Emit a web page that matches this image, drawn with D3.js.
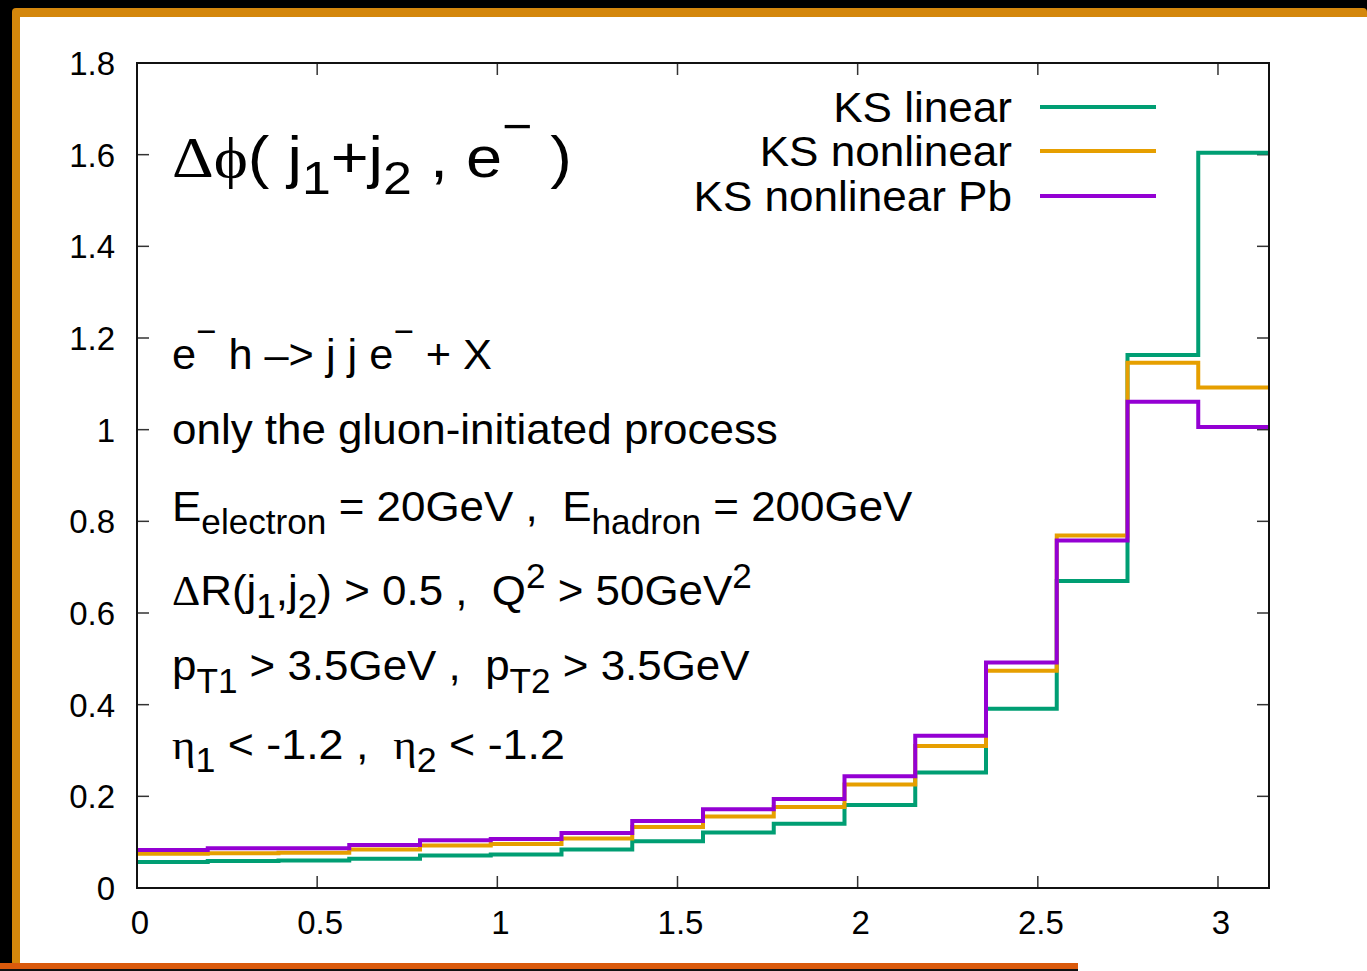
<!DOCTYPE html>
<html>
<head>
<meta charset="utf-8">
<script src="https://cdn.jsdelivr.net/npm/d3@7"></script>
<style>
  html, body { margin: 0; padding: 0; background: #000; }
  svg { display: block; }
  text { font-family: "Liberation Sans", Arial, Helvetica, sans-serif; fill: #000; white-space: pre; }
</style>
</head>
<body>
<svg id="chart" width="1367" height="971"></svg>
<script>
// Bin edges in delta-phi (16 bins over [0, pi])
const binEdges = [0, 0.19635, 0.39270, 0.58905, 0.78540, 0.98175, 1.17810, 1.37445,
                  1.57080, 1.76715, 1.96350, 2.15984, 2.35619, 2.55254, 2.74889, 2.94524, 3.14159];

// Histogram contents per bin
const ksLinear      = [0.057, 0.059, 0.060, 0.064, 0.071, 0.073, 0.084, 0.102,
                       0.121, 0.140, 0.181, 0.252, 0.391, 0.670, 1.163, 1.604];
const ksNonlinear   = [0.075, 0.076, 0.077, 0.084, 0.093, 0.096, 0.108, 0.133,
                       0.156, 0.177, 0.226, 0.310, 0.474, 0.769, 1.146, 1.092];
const ksNonlinearPb = [0.083, 0.087, 0.087, 0.094, 0.104, 0.107, 0.120, 0.146,
                       0.172, 0.194, 0.244, 0.332, 0.492, 0.758, 1.061, 1.006];

const seriesNames  = ["KS linear", "KS nonlinear", "KS nonlinear Pb"];
const seriesColors = ["#009e73", "#e69f00", "#9400d3"];

const xTicks = [0, 0.5, 1, 1.5, 2, 2.5, 3];
const yTicks = [0, 0.2, 0.4, 0.6, 0.8, 1, 1.2, 1.4, 1.6, 1.8];

const svg = d3.select("#chart");
const W = 1367, H = 971;

// ---- page frame ----
svg.append("rect").attr("x", 0).attr("y", 0).attr("width", W).attr("height", H).attr("fill", "#000");
svg.append("rect").attr("x", 12).attr("y", 8).attr("width", W - 12).attr("height", 958)
   .attr("rx", 4).attr("fill", "#d4870c");
svg.append("rect").attr("x", 20).attr("y", 17).attr("width", W - 20).attr("height", 954).attr("fill", "#fff");
svg.append("rect").attr("x", 0).attr("y", 963).attr("width", 1078).attr("height", 6).attr("fill", "#da5a0c");
svg.append("rect").attr("x", 0).attr("y", 969).attr("width", 1078).attr("height", 2).attr("fill", "#111");

// ---- plot area ----
const plotL = 137, plotR = 1269, plotT = 63, plotB = 888;
const x = d3.scaleLinear().domain([0, Math.PI]).range([plotL, plotR]);
const y = d3.scaleLinear().domain([0, 1.8]).range([plotB, plotT]);

const fmt = d => (d === 0 ? "0" : String(+d.toFixed(1)));

// tick marks on all four sides, pointing inward
const tickLen = 12;
const ticks = svg.append("g").attr("stroke", "#333").attr("stroke-width", 1.5);
xTicks.forEach(t => {
  ticks.append("line").attr("x1", x(t)).attr("x2", x(t)).attr("y1", plotB).attr("y2", plotB - tickLen);
  ticks.append("line").attr("x1", x(t)).attr("x2", x(t)).attr("y1", plotT).attr("y2", plotT + tickLen);
});
yTicks.forEach(t => {
  ticks.append("line").attr("x1", plotL).attr("x2", plotL + tickLen).attr("y1", y(t)).attr("y2", y(t));
  ticks.append("line").attr("x1", plotR).attr("x2", plotR - tickLen).attr("y1", y(t)).attr("y2", y(t));
});

// tick labels
const tickFont = 33;
svg.append("g").selectAll("text").data(xTicks).join("text")
  .attr("x", d => x(d) + 3).attr("y", plotB + 46)
  .attr("text-anchor", "middle").attr("font-size", tickFont)
  .text(fmt);
svg.append("g").selectAll("text").data(yTicks).join("text")
  .attr("x", plotL - 22).attr("y", d => y(d) + 12)
  .attr("text-anchor", "end").attr("font-size", tickFont)
  .text(fmt);

// ---- histogram steps ----
const stepLine = d3.line().x(d => x(d[0])).y(d => y(d[1])).curve(d3.curveStepAfter);
const toPoints = vals => {
  const pts = vals.map((v, i) => [binEdges[i], v]);
  pts.push([binEdges[binEdges.length - 1], vals[vals.length - 1]]);
  return pts;
};
svg.append("clipPath").attr("id", "plotclip").append("rect")
  .attr("x", plotL).attr("y", plotT).attr("width", plotR - plotL).attr("height", plotB - plotT);
const dataG = svg.append("g").attr("clip-path", "url(#plotclip)");
[ksLinear, ksNonlinear, ksNonlinearPb].forEach((vals, i) => {
  dataG.append("path").attr("d", stepLine(toPoints(vals)))
    .attr("fill", "none").attr("stroke", seriesColors[i]).attr("stroke-width", 4)
    .attr("stroke-linejoin", "miter");
});

// axis border
svg.append("rect").attr("x", plotL).attr("y", plotT).attr("width", plotR - plotL).attr("height", plotB - plotT)
  .attr("fill", "none").attr("stroke", "#111").attr("stroke-width", 2);

// ---- legend (right-aligned names, slightly widened) ----
const legendFont = 43;
const legendRows = [107, 151, 196];
const legendRight = 1012;
seriesNames.forEach((name, i) => {
  svg.append("text").attr("x", legendRight).attr("y", legendRows[i] + 15)
    .attr("text-anchor", "end").attr("font-size", legendFont)
    .attr("transform", `translate(${legendRight},0) scale(1.025,1) translate(${-legendRight},0)`)
    .text(name);
  svg.append("line").attr("x1", 1040).attr("x2", 1156).attr("y1", legendRows[i]).attr("y2", legendRows[i])
    .attr("stroke", seriesColors[i]).attr("stroke-width", 4);
});

// ---- rich text helper ----
// parts are [text, kind, family]; kind is "" (normal), "sub", "sup" or "minus" (raised superscript minus)
// the finished line is stretched horizontally to span `span` pixels
function richText(xPos, yPos, size, span, parts) {
  const t = svg.append("text").attr("x", xPos).attr("y", yPos).attr("font-size", size);
  let shift = 0;
  parts.forEach(([str, kind, family]) => {
    const target = kind === "sub" ? size * 0.3
                 : kind === "sup" ? -size * 0.4
                 : kind === "minus" ? -size * 0.6 : 0;
    const sp = t.append("tspan").attr("dy", target - shift).text(str);
    if (kind) sp.attr("font-size", size * 0.8);
    if (family) sp.style("font-family", family);
    shift = target;
  });
  const w = t.node().getBBox().width;
  const s = span / w;
  t.attr("transform", `translate(${xPos},0) scale(${s},1) translate(${-xPos},0)`);
  return t;
}
const serif = "'Liberation Serif', 'DejaVu Serif', serif";
const MINUS = "\u2212";

// title
richText(172, 177, 58, 400, [
  ["Δϕ", "", serif], ["( j"], ["1", "sub"], ["+j"], ["2", "sub"], [" , e"], [MINUS, "minus"], [" )"]
]);

// annotations
const annFont = 43;
richText(172, 369, annFont, 320, [["e"], [MINUS, "minus"], [" h –> j j e"], [MINUS, "minus"], [" + X"]]);
richText(172, 444, annFont, 606, [["only the gluon-initiated process"]]);
richText(172, 521, annFont, 741, [["E"], ["electron", "sub"], [" = 20GeV ,  E"], ["hadron", "sub"], [" = 200GeV"]]);
richText(172, 605, annFont, 580, [["Δ", "", serif], ["R(j"], ["1", "sub"], [",j"], ["2", "sub"], [") > 0.5 ,  Q"], ["2", "sup"], [" > 50GeV"], ["2", "sup"]]);
richText(172, 680, annFont, 578, [["p"], ["T1", "sub"], [" > 3.5GeV ,  p"], ["T2", "sub"], [" > 3.5GeV"]]);
richText(172, 759, annFont, 393, [["η", "", serif], ["1", "sub"], [" < -1.2 ,  "], ["η", "", serif], ["2", "sub"], [" < -1.2"]]);
</script>
</body>
</html>
